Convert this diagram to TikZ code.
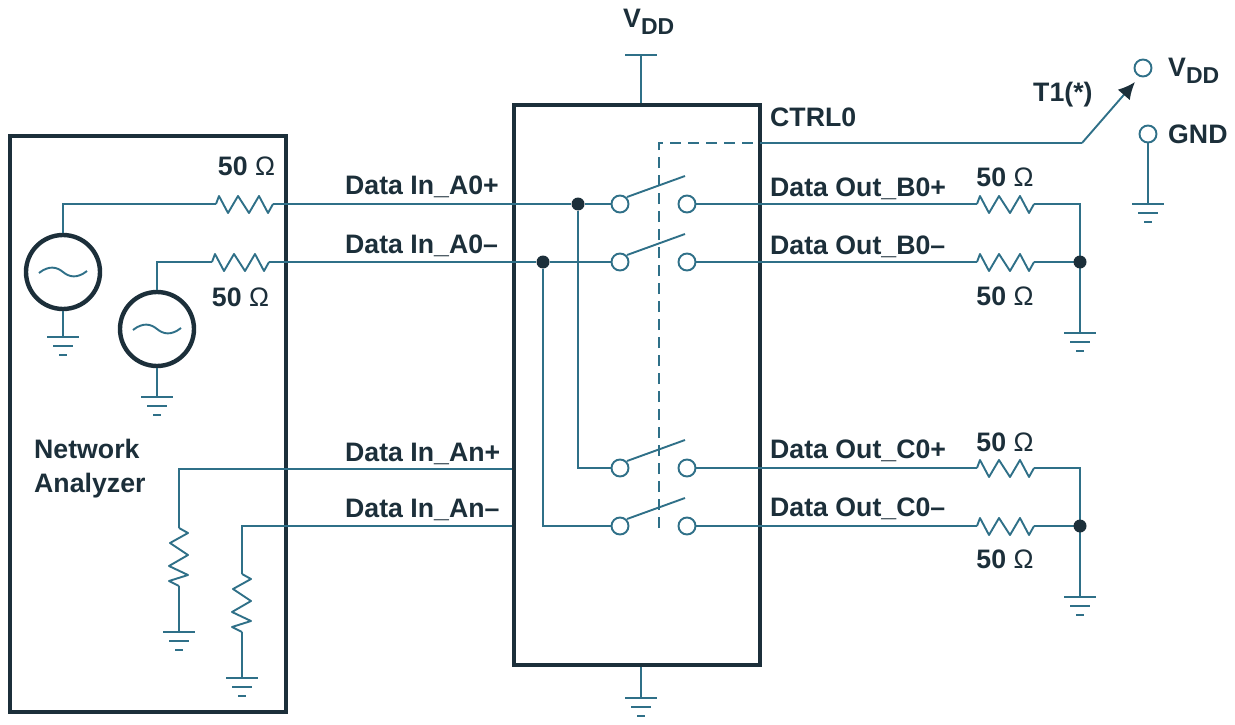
\documentclass[tikz,border=0pt]{standalone}
\usepackage{fontspec}
\setmainfont{Liberation Sans}
\usetikzlibrary{arrows.meta}
\definecolor{wirec}{HTML}{2F7088}
\definecolor{inkc}{HTML}{1C2F3A}
\newcommand{\OHM}{50 {\mdseries Ω}}
\newcommand{\VDDT}{V\raisebox{-7pt}{\fontsize{23}{28}\selectfont DD}}
\tikzset{
 wire/.style={draw=wirec,line width=1.9pt},
 heavy/.style={draw=inkc,line width=4.4pt},
 lbl/.style={inner sep=0pt,text=inkc,font=\fontsize{26.7}{32}\selectfont\bfseries},
 llbl/.style={lbl,anchor=base west},
 term/.style={circle,draw=wirec,line width=1.9pt,fill=white,minimum size=17pt,inner sep=0pt},
 dotn/.style={circle,fill=inkc,minimum size=13pt,inner sep=0pt},
 src/.style={circle,draw=inkc,line width=4.4pt,fill=white,minimum size=74pt,inner sep=0pt},
 pics/gnd/.style={code={
   \draw[wire] (-16,0)--(16,0);
   \draw[wire] (-10,9)--(10,9);
   \draw[wire] (-4,18)--(4,18);
 }},
 pics/hres/.style={code={
   \draw[wire,line join=round] (0,0)--(3,-8)--(12,9)--(22,-8)--(33,9)--(43,-8)--(52,9)--(57,0);
 }},
 pics/vres/.style={code={
   \draw[wire,line join=round] (0,0)--(9,5)--(-9,15)--(9,27)--(-10,38)--(9,47)--(-10,53)--(0,58);
 }},
 pics/sine/.style={code={
   \draw[wire] (-24,1) .. controls (-14,-7) and (-6,-5) .. (0,0) .. controls (6,5) and (14,7) .. (24,-1);
 }},
 pics/arm/.style={code={
   \draw[wire] (0,0)--(58,-21);
 }}
}
\begin{document}
\begin{tikzpicture}[x=1pt,y=-1pt]
\useasboundingbox (0,0) rectangle (1235,725);
% boxes
\node[heavy,draw,minimum width=276pt,minimum height=576pt,inner sep=0pt] (na) at (148,424) {};
\node[heavy,draw,minimum width=246pt,minimum height=560pt,inner sep=0pt] (dut) at (637,385) {};
% supply
\coordinate (vt) at (641,55);
\coordinate (vl) at (625,55); \coordinate (vr) at (657,55);
\draw[wire] (vl)--(vr);
\draw[wire] (vt)--(641,103);
\coordinate (gb) at (641,698);
\draw[wire] (641,667)--(gb);
\pic at (gb) {gnd};
\node[llbl] (vddtop) at (623,28) {\VDDT};
% sources
\node[src] (s1) at (63,272) {};
\node[src] (s2) at (157,329) {};
\pic at (s1) {sine};
\pic at (s2) {sine};
\coordinate (s1t) at (63,204); \coordinate (s2t) at (157,262);
\coordinate (g1) at (63,337); \coordinate (g2) at (157,397);
\draw[wire] (s1.south)--(g1); \pic at (g1) {gnd};
\draw[wire] (s2.south)--(g2); \pic at (g2) {gnd};
% terminals
\foreach \n/\y in {a/204,b/262,c/468,d/526}{
  \node[term] (l\n) at (620,\y) {};
  \node[term] (r\n) at (687,\y) {};
  \pic at (627,\y-7) {arm};
}
% dots
\node[dotn] (d1) at (578,204) {};
\node[dotn] (d2) at (543,262) {};
% input resistors
\coordinate (r1a) at (216,204); \coordinate (r1b) at (273,204);
\coordinate (r2a) at (212,262); \coordinate (r2b) at (269,262);
\pic at (r1a) {hres}; \pic at (r2a) {hres};
\draw[wire] (s1.north)--(s1t)--(r1a);
\draw[wire] (s2.north)--(s2t)--(r2a);
\draw[wire] (r1b)--(d1)--(la);
\draw[wire] (r2b)--(d2)--(lb);
\draw[wire] (d1)|-(lc);
\draw[wire] (d2)|-(ld);
% outputs
\foreach \n/\y in {a/204,b/262,c/468,d/526}{
  \coordinate (o\n) at (977,\y);
  \coordinate (p\n) at (1034,\y);
  \pic at (o\n) {hres};
  \draw[wire] (r\n)--(o\n);
}
\coordinate (ja) at (1080,204); \coordinate (jb) at (1080,262);
\coordinate (jc) at (1080,468); \coordinate (jd) at (1080,526);
\coordinate (g3) at (1080,333); \coordinate (g4) at (1080,597);
\draw[wire] (pa)--(ja)--(g3); \draw[wire] (pb)--(jb);
\draw[wire] (pc)--(jc)--(g4); \draw[wire] (pd)--(jd);
\node[dotn] at (jb) {}; \node[dotn] at (jd) {};
\pic at (g3) {gnd}; \pic at (g4) {gnd};
% mid-level terminations
\coordinate (t1) at (179,469); \coordinate (t2) at (242,526);
\coordinate (t1r) at (512,469); \coordinate (t2r) at (512,526);
\coordinate (t1a) at (179,528); \coordinate (t1b) at (179,586); \coordinate (t1g) at (179,632);
\coordinate (t2a) at (242,574); \coordinate (t2b) at (242,632); \coordinate (t2g) at (242,678);
\draw[wire] (t1r)--(t1)--(t1a); \draw[wire] (t1b)--(t1g);
\draw[wire] (t2r)--(t2)--(t2a); \draw[wire] (t2b)--(t2g);
\pic at (t1a) {vres}; \pic at (t2a) {vres};
\pic at (t1g) {gnd}; \pic at (t2g) {gnd};
% control
\coordinate (cd) at (659,143); \coordinate (cb) at (659,528);
\coordinate (cr) at (760,143); \coordinate (ck) at (1082,143); \coordinate (ca) at (1135,82);
\draw[wire,dash pattern=on 11pt off 7pt] (cb)--(cd)--(cr);
\draw[wire] (cr)--(ck);
\draw[wire,-{Latex[length=17pt,width=16pt,color=inkc]}] (ck)--(ca);
\node[term] (tv) at (1143,68) {};
\node[term] (tg) at (1148,134) {};
\coordinate (g5) at (1148,204);
\draw[wire] (tg)--(g5); \pic at (g5) {gnd};
% labels
\node[lbl,anchor=base] (ohm1) at (246.5,175) {\OHM};
\node[lbl,anchor=base] (ohm2) at (240.5,306) {\OHM};
\node[lbl,anchor=base] (ohm3) at (1005,186) {\OHM};
\node[lbl,anchor=base] (ohm4) at (1005,305) {\OHM};
\node[lbl,anchor=base] (ohm5) at (1005,451) {\OHM};
\node[lbl,anchor=base] (ohm6) at (1005,568) {\OHM};
\node[llbl] (ia) at (345,194) {Data In\_A0+};
\node[llbl] (ib) at (345,253) {Data In\_A0–};
\node[llbl] (ic) at (345,461) {Data In\_An+};
\node[llbl] (id) at (345,517) {Data In\_An–};
\node[llbl] (oa) at (770,196) {Data Out\_B0+};
\node[llbl] (ob) at (770,254) {Data Out\_B0–};
\node[llbl] (oc) at (770,458) {Data Out\_C0+};
\node[llbl] (od) at (770,516) {Data Out\_C0–};
\node[llbl] (ctrl) at (770,126) {CTRL0};
\node[llbl] (t1lab) at (1033,102) {T1(*)};
\node[llbl] (vddr) at (1168,77) {\VDDT};
\node[llbl] (gnd) at (1168,143) {GND};
\node[llbl] (n1) at (34,458) {Network};
\node[llbl] (n2) at (34,492) {Analyzer};
\end{tikzpicture}
\end{document}
